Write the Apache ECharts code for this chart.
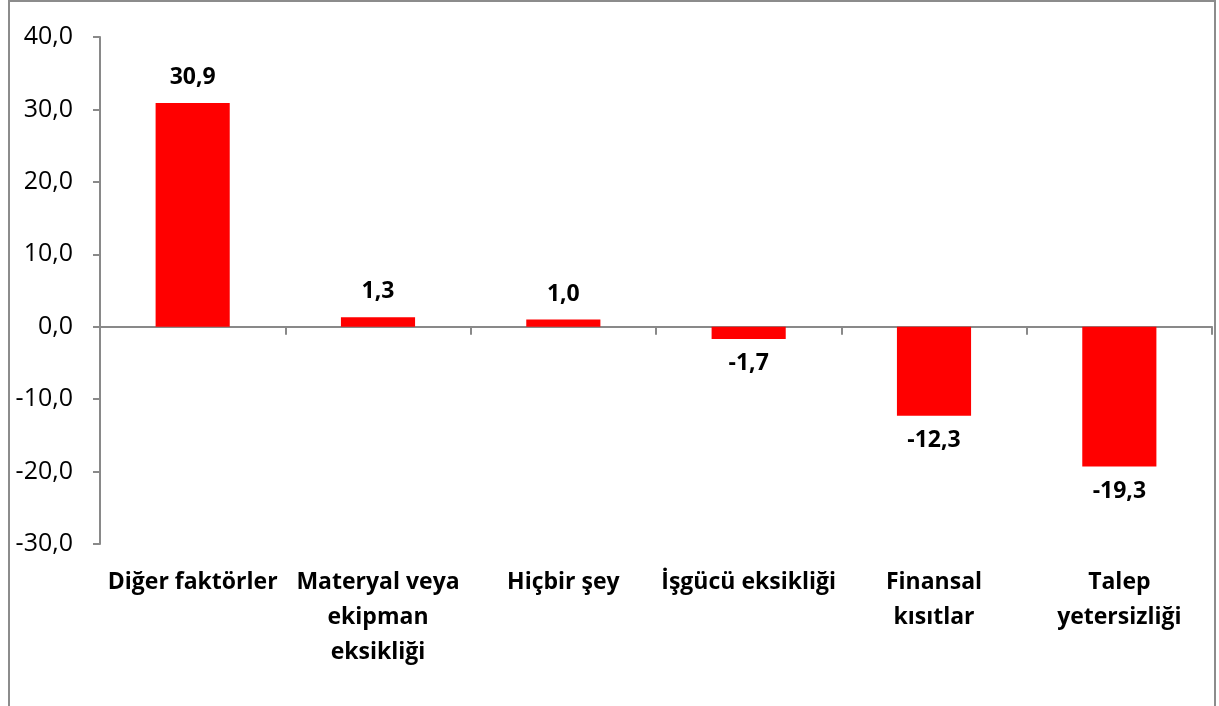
<!DOCTYPE html>
<html>
<head>
<meta charset="utf-8">
<script src="https://cdn.jsdelivr.net/npm/echarts@6/dist/echarts.min.js"></script>
<style>
  html, body { margin: 0; padding: 0; background: #fff; overflow: hidden; }
  #frame { position: absolute; left: 8px; top: 0; width: 1208px; height: 760px; border: 2px solid #8c8c8c; box-sizing: border-box; }
  #chart { position: absolute; left: 0; top: 0; width: 1219px; height: 706px; }
</style>
</head>
<body>
<div id="frame"></div>
<div id="chart"></div>
<script>
// kategoriler ve değerler
var categories = ['Diğer faktörler', 'Materyal veya\nekipman\neksikliği', 'Hiçbir şey', 'İşgücü eksikliği', 'Finansal\nkısıtlar', 'Talep\nyetersizliği'];
var values = [30.9, 1.3, 1.0, -1.7, -12.3, -19.3];
var yTicks = { min: -30, max: 40, step: 10 };

var fontFam = '"Open Sans", "Noto Sans", sans-serif';
var grey = '#898989';

function fmt(v) {
  return v.toFixed(1).replace('.', ',');
}

var chart = echarts.init(document.getElementById('chart'), null, { renderer: 'canvas' });

var option = {
  backgroundColor: 'transparent',
  animation: false,
  grid: { left: 100, right: 7, top: 37, bottom: 162, containLabel: false },
  xAxis: [{
    type: 'category',
    data: categories,
    axisLine: { onZero: true, lineStyle: { color: grey, width: 2 } },
    axisTick: { show: true, length: 8, lineStyle: { color: grey, width: 2 } },
    axisLabel: { show: false }
  }, {
    type: 'category',
    data: categories,
    position: 'bottom',
    axisLine: { show: false, onZero: false },
    axisTick: { show: false },
    axisLabel: {
      margin: 21,
      interval: 0,
      fontFamily: fontFam,
      fontWeight: 'bold',
      fontSize: 23,
      lineHeight: 35,
      color: '#000'
    }
  }],
  yAxis: {
    type: 'value',
    min: yTicks.min,
    max: yTicks.max,
    interval: yTicks.step,
    splitLine: { show: false },
    axisLine: { show: true, lineStyle: { color: grey, width: 2 } },
    axisTick: { show: true, length: 7, lineStyle: { color: grey, width: 2 } },
    axisLabel: {
      margin: 27,
      fontFamily: fontFam,
      fontSize: 25,
      color: '#000',
      formatter: fmt
    }
  },
  series: [{
    type: 'bar',
    barWidth: '40%',
    itemStyle: { color: '#ff0000' },
    label: {
      show: true,
      fontFamily: fontFam,
      fontWeight: 'bold',
      fontSize: 23,
      color: '#000',
      distance: 14,
      position: 'top',
      formatter: function (p) { return fmt(p.value); }
    },
    // negatif değerler için etiket altta
    data: values.map(function (v) {
      return v < 0 ? { value: v, label: { position: 'bottom', distance: 13 } } : v;
    })
  }]
};

chart.setOption(option);
</script>
</body>
</html>
